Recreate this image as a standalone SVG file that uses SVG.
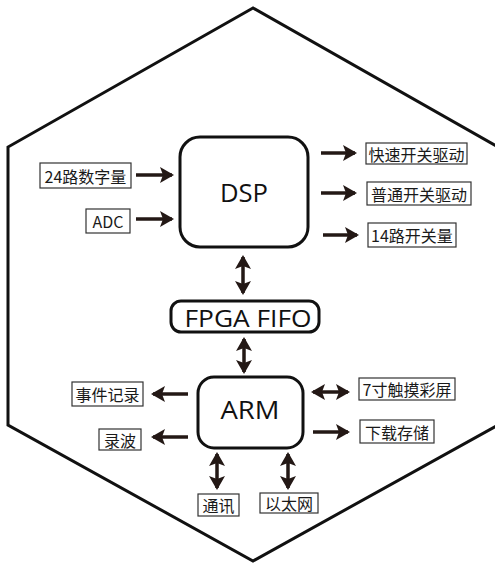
<svg xmlns="http://www.w3.org/2000/svg" width="495" height="563" viewBox="0 0 495 563">
<style>
.hex{fill:none;stroke:#111;stroke-width:3}
.core{fill:#fff;stroke:#111;stroke-width:3}
.lbl{fill:#fff;stroke:#333;stroke-width:1.2}
.t{font-family:"Noto Sans CJK SC","Noto Sans",sans-serif;font-size:16px;fill:#1a1a1a;text-anchor:middle;dominant-baseline:central}
.big{font-family:"Open Sans","Noto Sans",sans-serif;fill:#111;text-anchor:middle;dominant-baseline:central}
.ar{stroke:#231815;stroke-width:3.5;fill:none}
</style>
<defs>
<marker id="h" markerUnits="userSpaceOnUse" markerWidth="14" markerHeight="16" refX="12" refY="8" orient="auto-start-reverse" viewBox="0 0 14 16">
<path d="M0,0 L14,8 L0,16 L3,8 Z" fill="#231815"/>
</marker>
</defs>
<polygon class="hex" points="253,8 8,147 8,425 253,561 498,425 498,147"/>
<g id="connectors">
<line class="ar" x1="136" y1="175" x2="172" y2="175" marker-end="url(#h)"/>
<line class="ar" x1="136" y1="219" x2="172" y2="219" marker-end="url(#h)"/>
<line class="ar" x1="321" y1="153" x2="355" y2="153" marker-end="url(#h)"/>
<line class="ar" x1="321" y1="193" x2="355" y2="193" marker-end="url(#h)"/>
<line class="ar" x1="323" y1="235" x2="357" y2="235" marker-end="url(#h)"/>
<line class="ar" x1="243" y1="257" x2="243" y2="293" marker-start="url(#h)" marker-end="url(#h)"/>
<line class="ar" x1="244" y1="339" x2="244" y2="372" marker-start="url(#h)" marker-end="url(#h)"/>
<line class="ar" x1="188" y1="394" x2="153" y2="394" marker-end="url(#h)"/>
<line class="ar" x1="188" y1="437" x2="153" y2="437" marker-end="url(#h)"/>
<line class="ar" x1="313" y1="392" x2="348" y2="392" marker-start="url(#h)" marker-end="url(#h)"/>
<line class="ar" x1="313" y1="432" x2="348" y2="432" marker-end="url(#h)"/>
<line class="ar" x1="217" y1="454" x2="217" y2="488" marker-start="url(#h)" marker-end="url(#h)"/>
<line class="ar" x1="288" y1="454" x2="288" y2="488" marker-start="url(#h)" marker-end="url(#h)"/>
</g>
<g id="dsp"><rect class="core" x="180" y="137" width="128" height="110" rx="20"/><text class="big" x="244" y="192" font-size="26" textLength="48" lengthAdjust="spacingAndGlyphs">DSP</text></g>
<g id="fpga"><rect class="core" x="171" y="301" width="148" height="31" rx="10"/><text class="big" x="248" y="317" font-size="24" textLength="127" lengthAdjust="spacingAndGlyphs">FPGA FIFO</text></g>
<g id="arm"><rect class="core" x="198" y="377" width="105" height="71" rx="16"/><text class="big" x="250" y="409" font-size="26" textLength="59" lengthAdjust="spacingAndGlyphs">ARM</text></g>
<g id="in24"><rect class="lbl" x="40" y="163" width="91" height="25"/><text class="t" x="85.5" y="175.5">24路数字量</text></g>
<g id="adc"><rect class="lbl" x="86" y="209" width="44" height="24"/><text class="t" x="108" y="221">ADC</text></g>
<g id="fast"><rect class="lbl" x="366" y="143" width="101" height="21"/><text class="t" x="416.5" y="153.5">快速开关驱动</text></g>
<g id="normal"><rect class="lbl" x="367" y="182" width="104" height="23"/><text class="t" x="419" y="193.5">普通开关驱动</text></g>
<g id="sw14"><rect class="lbl" x="368" y="223" width="88" height="24"/><text class="t" x="412" y="235">14路开关量</text></g>
<g id="event"><rect class="lbl" x="72" y="382" width="71" height="24"/><text class="t" x="107.5" y="394">事件记录</text></g>
<g id="wave"><rect class="lbl" x="99" y="429" width="42" height="21"/><text class="t" x="120" y="439.5">录波</text></g>
<g id="screen"><rect class="lbl" x="359" y="378" width="96" height="22"/><text class="t" x="407" y="389">7寸触摸彩屏</text></g>
<g id="storage"><rect class="lbl" x="360" y="420" width="74" height="23"/><text class="t" x="397" y="431.5">下载存储</text></g>
<g id="comm"><rect class="lbl" x="198" y="494" width="41" height="22"/><text class="t" x="218.5" y="505">通讯</text></g>
<g id="eth"><rect class="lbl" x="260" y="493" width="58" height="20"/><text class="t" x="289" y="503">以太网</text></g>
</svg>
